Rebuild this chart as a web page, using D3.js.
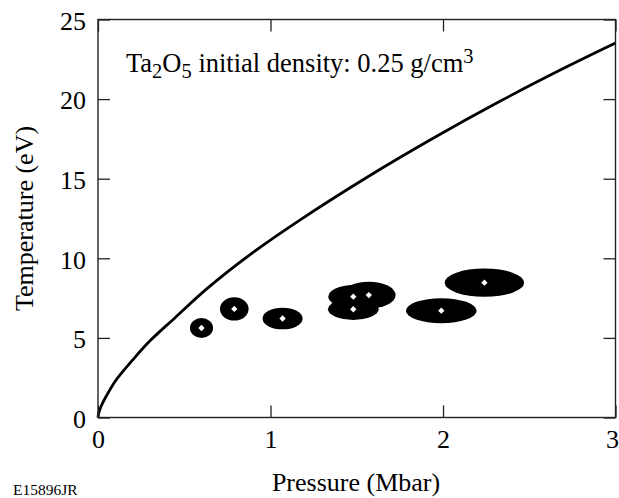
<!DOCTYPE html>
<html>
<head>
<meta charset="utf-8">
<script src="https://cdn.jsdelivr.net/npm/d3@7"></script>
<style>
  html, body { margin: 0; padding: 0; background: #fff; }
  svg { display: block; }
  text { font-family: "Liberation Serif", "Times New Roman", serif; fill: #000; }
</style>
</head>
<body>
<svg id="chart" width="619" height="498"></svg>
<script>
// Hugoniot curve (pressure in Mbar, temperature in eV)
const curvePressure = [0, 0.005, 0.02, 0.05, 0.1, 0.2, 0.3, 0.45, 0.63, 0.88, 1.17, 1.56, 1.94, 2.33, 2.72, 3.0];
const curveTemperature = [0, 0.3, 0.75, 1.38, 2.28, 3.6, 4.8, 6.3, 8.08, 10.22, 12.4, 15.09, 17.52, 19.86, 22.04, 23.52];

// Measurements with their uncertainty ellipses
const pointPressure = [0.60, 0.79, 1.07, 1.48, 1.57, 1.48, 1.99, 2.24];
const pointTemperature = [5.62, 6.82, 6.22, 7.59, 7.69, 6.80, 6.71, 8.47];
const pressureError = [0.067, 0.083, 0.116, 0.145, 0.155, 0.147, 0.205, 0.23];
const temperatureError = [0.63, 0.73, 0.68, 0.73, 0.84, 0.67, 0.785, 0.89];

const xTicks = [0, 1, 2, 3];
const yTicks = [0, 5, 10, 15, 20, 25];

const svg = d3.select("#chart");
const plotLeft = 98, plotRight = 615.5, plotTop = 19.5, plotBottom = 417.5;

const x = d3.scaleLinear().domain([0, 3]).range([plotLeft, plotRight]);
const y = d3.scaleLinear().domain([0, 25]).range([plotBottom, plotTop]);

// Measurement ellipses
const pts = pointPressure.map((p, i) => ({
  p, t: pointTemperature[i], dp: pressureError[i], dt: temperatureError[i]
}));

svg.append("g").selectAll("ellipse").data(pts).join("ellipse")
  .attr("cx", d => x(d.p))
  .attr("cy", d => y(d.t))
  .attr("rx", d => x(d.p + d.dp) - x(d.p))
  .attr("ry", d => y(d.t - d.dt) - y(d.t))
  .attr("fill", "#000");

// White diamond at each measured point
svg.append("g").selectAll("path").data(pts).join("path")
  .attr("d", d3.symbol(d3.symbolSquare, 20))
  .attr("transform", d => `translate(${x(d.p)},${y(d.t)}) rotate(45)`)
  .attr("fill", "#fff");

// Model curve
const curve = curvePressure.map((p, i) => [p, curveTemperature[i]]);
svg.append("path")
  .datum(curve)
  .attr("fill", "none")
  .attr("stroke", "#000")
  .attr("stroke-width", 2.8)
  .attr("d", d3.line().x(d => x(d[0])).y(d => y(d[1])).curve(d3.curveCatmullRom.alpha(0.5)));

// Axes with inward ticks
const fontSize = 26;
const gx = svg.append("g").attr("transform", `translate(0,${plotBottom})`)
  .call(d3.axisBottom(x).tickValues(xTicks).tickFormat(d3.format("d")).tickSize(-12).tickPadding(12));
const gy = svg.append("g").attr("transform", `translate(${plotLeft},0)`)
  .call(d3.axisLeft(y).tickValues(yTicks).tickFormat(d3.format("d")).tickSize(-12).tickPadding(12));
svg.append("g").attr("transform", `translate(0,${plotTop})`)
  .call(d3.axisTop(x).tickValues(xTicks).tickFormat("").tickSize(-12));
svg.append("g").attr("transform", `translate(${plotRight},0)`)
  .call(d3.axisRight(y).tickValues(yTicks).tickFormat("").tickSize(-12));

svg.selectAll(".domain").remove();
svg.selectAll(".tick line").attr("stroke", "#222").attr("stroke-width", 1.3);
svg.selectAll(".tick text")
  .attr("font-family", "Liberation Serif, Times New Roman, serif")
  .attr("font-size", fontSize)
  .attr("fill", "#000");
gy.selectAll(".tick text").attr("dy", "0.38em");
// keep the last pressure label inside the page edge
gx.selectAll(".tick text").filter(d => d === 3)
  .attr("text-anchor", "end").attr("x", 619 - plotRight - 0.5);

// Plot frame
svg.append("rect")
  .attr("x", plotLeft).attr("y", plotTop)
  .attr("width", plotRight - plotLeft).attr("height", plotBottom - plotTop)
  .attr("fill", "none").attr("stroke", "#222").attr("stroke-width", 1.4);

// Axis titles
svg.append("text")
  .attr("x", 356).attr("y", 491)
  .attr("text-anchor", "middle")
  .attr("font-size", fontSize)
  .text("Pressure (Mbar)");

svg.append("text")
  .attr("transform", `translate(33,${(plotTop + plotBottom) / 2}) rotate(-90)`)
  .attr("text-anchor", "middle")
  .attr("font-size", fontSize)
  .text("Temperature (eV)");

// Annotation
const note = svg.append("text").attr("x", 126).attr("y", 72).attr("font-size", 26.5);
note.append("tspan").text("Ta");
note.append("tspan").attr("dy", 6).attr("font-size", 20.5).text("2");
note.append("tspan").attr("dy", -6).text("O");
note.append("tspan").attr("dy", 6).attr("font-size", 20.5).text("5");
note.append("tspan").attr("dy", -6).text(" initial density: 0.25 g/cm");
note.append("tspan").attr("dy", -9).attr("font-size", 20.5).text("3");

// Figure id
svg.append("text")
  .attr("x", 13).attr("y", 495)
  .attr("font-size", 15.5)
  .text("E15896JR");
</script>
</body>
</html>
